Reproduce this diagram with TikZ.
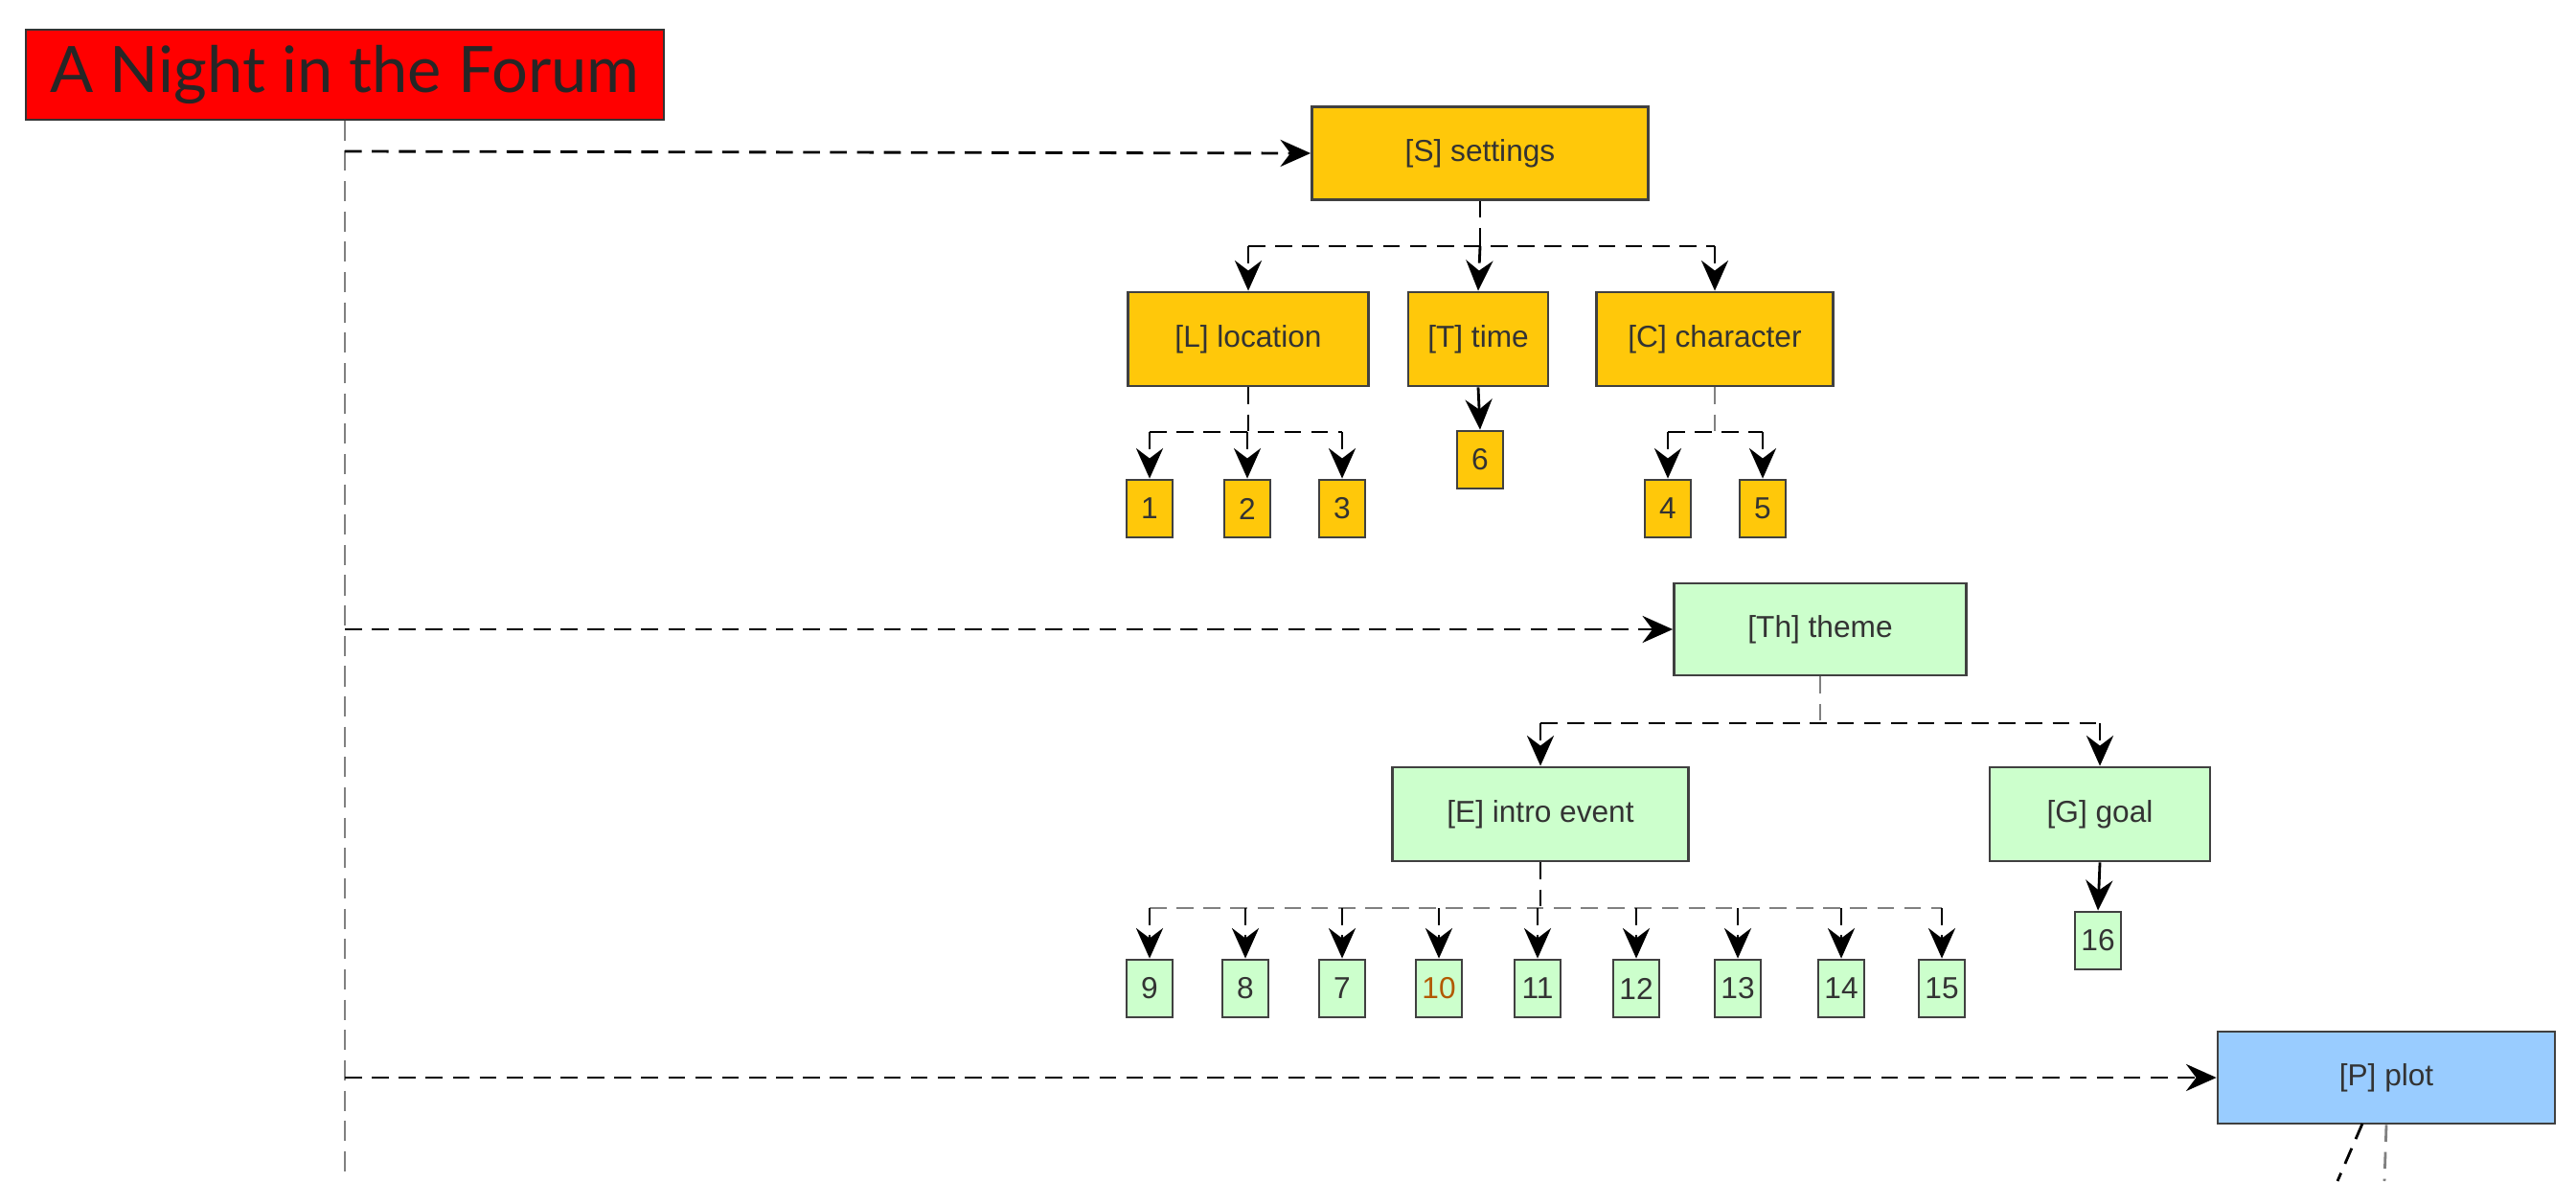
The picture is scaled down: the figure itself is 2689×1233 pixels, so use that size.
\documentclass[tikz,border=0pt]{standalone}
\usepackage{fontspec}
\setmainfont{Liberation Sans}
\newfontfamily\titlefont{Lato}
\usetikzlibrary{arrows.meta}
\definecolor{org}{HTML}{FFC80A}
\definecolor{grn}{HTML}{CCFFCC}
\definecolor{blu}{HTML}{99CCFF}
\definecolor{ttl}{HTML}{FF0000}
\begin{document}
\begin{tikzpicture}[x=0.01cm,y=-0.01cm,
  sz/.style 2 args={minimum width=#1*0.01cm,minimum height=#2*0.01cm},
  box/.style={draw=black!75,line width=0.8pt,inner sep=0pt,font=\fontsize{9}{10}\selectfont,text=black!80},
  ob/.style={box,fill=org},
  gb/.style={box,fill=grn},
  bb/.style={box,fill=blu},
  leaf/.style={sz={48}{60}},
  arr/.style={line width=0.8pt,dash pattern=on 5pt off 3pt,-{Stealth[length=9pt,width=8pt,inset=3pt]}},
  ln/.style={line width=0.8pt,dash pattern=on 5pt off 3pt}]
\useasboundingbox (0,0) rectangle (2689,1233);
% title
\node[draw=black!80,fill=ttl,sz={666}{94},inner sep=0pt,font=\titlefont\fontsize{19}{22}\selectfont,text=black!85] (title) at (360,78) {A Night in the Forum};
\coordinate (spE) at (360,1233);
\draw[gray,line width=0.8pt,dash pattern=on 6pt off 3pt] (title.south) -- (spE);
% settings
\node[ob,sz={351}{97}] (S) at (1545,160) {[S] settings};
\node[ob,sz={251}{98}] (L) at (1303,354) {[L] location};
\node[ob,sz={146}{98}] (T) at (1543,354) {[T] time};
\node[ob,sz={247}{98}] (C) at (1790,354) {[C] character};
\foreach \n/\x in {1/1200,2/1302,3/1401}{\node[ob,leaf] (n\n) at (\x,531) {\n};}
\node[ob,leaf] (n6) at (1545,480) {6};
\foreach \n/\x in {4/1741,5/1840}{\node[ob,leaf] (n\n) at (\x,531) {\n};}
% theme
\node[gb,sz={305}{96}] (Th) at (1900,657) {[Th] theme};
\node[gb,sz={309}{98}] (E) at (1608,850) {[E] intro event};
\node[gb,sz={230}{98}] (G) at (2192,850) {[G] goal};
\node[gb,leaf] (n16) at (2190,982) {16};
\foreach \n/\x in {9/1200,8/1300,7/1401,12/1708,13/1814,14/1922,15/2027,11/1605}{\node[gb,leaf] (n\n) at (\x,1032) {\n};}
\node[gb,leaf,text=orange!70!black] (n10) at (1502,1032) {10};
% plot
\node[bb,sz={352}{96}] (P) at (2491,1125) {[P] plot};
% spine arrows
\coordinate (a1) at (360,158); \coordinate (a2) at (360,657); \coordinate (a3) at (360,1125);
\draw[arr] (a1) -- (S.west);
\draw[arr] (a2) -- (Th.west);
\draw[arr] (a3) -- (P.west);
% settings tree
\coordinate (sb) at (1545,257);
\draw[ln] (S.south) -- (sb);
\draw[ln] (L.north|-sb) -- (C.north|-sb);
\draw[arr] (L.north|-sb) -- (L.north);
\draw[arr] (sb) -- (T.north);
\draw[arr] (C.north|-sb) -- (C.north);
\coordinate (lb) at (1303,451);
\draw[ln] (L.south) -- (lb);
\draw[ln] (n1.north|-lb) -- (n3.north|-lb);
\foreach \n in {1,2,3}{\draw[arr] (n\n.north|-lb) -- (n\n.north);}
\draw[-{Stealth[length=9pt,width=8pt,inset=3pt]},line width=0.8pt] (T.south) -- (n6.north);
\coordinate (cb) at (1790,451);
\draw[ln,gray] (C.south) -- (cb);
\draw[ln] (n4.north|-cb) -- (n5.north|-cb);
\foreach \n in {4,5}{\draw[arr] (n\n.north|-cb) -- (n\n.north);}
% theme tree
\coordinate (tb) at (1900,755);
\draw[ln,gray] (Th.south) -- (tb);
\draw[ln] (E.north|-tb) -- (G.north|-tb);
\draw[arr] (E.north|-tb) -- (E.north);
\draw[arr] (G.north|-tb) -- (G.north);
\draw[-{Stealth[length=9pt,width=8pt,inset=3pt]},line width=0.8pt] (G.south) -- (n16.north);
\coordinate (eb) at (1608,948);
\draw[ln] (E.south) -- (eb);
\draw[ln,gray] (n9.north|-eb) -- (n15.north|-eb);
\foreach \n in {9,8,7,10,11,12,13,14,15}{\draw[arr] (n\n.north|-eb) -- (n\n.north);}
% plot children stubs
\coordinate (p0) at (2466,1173);
\coordinate (p1) at (2440,1233); \coordinate (p2) at (2489,1233);
\draw[ln] (p0) -- (p1);
\draw[ln,gray] (P.south) -- (p2);
\end{tikzpicture}
\end{document}
